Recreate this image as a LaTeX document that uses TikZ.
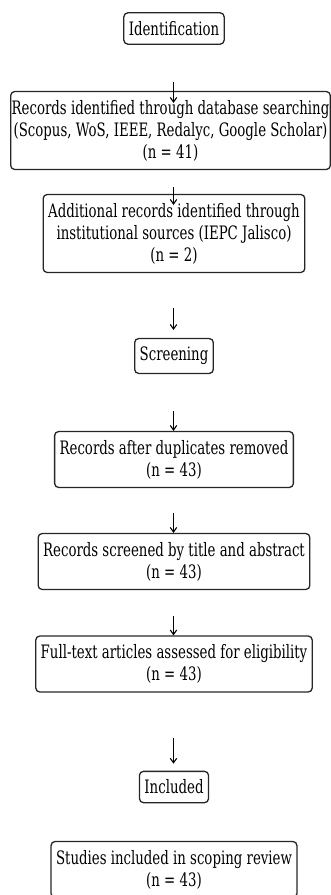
\documentclass[tikz,border=0pt]{standalone}
\usepackage{fontspec}
\setmainfont{DejaVu Serif}[FakeStretch=0.72]
\usepackage{tikz}
\usetikzlibrary{positioning,arrows.meta}

\begin{document}
\begin{tikzpicture}[x=1pt,y=-1pt,>={Straight Barb[length=4.5pt,width=6.5pt]},
		phase/.style={rectangle,rounded corners=4pt,draw=black!85,line width=1.3pt,inner xsep=5pt,inner ysep=8.5pt,align=center,font=\fontsize{18.5}{22}\selectfont},
		stage/.style={phase},
		flow/.style={->,line width=1.1pt}]
		\useasboundingbox (0,0) rectangle (330,895);
		\node[phase]  (ident)    at (174,28.5)  {Identification};
		\node[stage,inner xsep=1pt]  (dbrec)    at (170.5,130.5) {Records identified through database searching\\(Scopus, WoS, IEEE, Redalyc, Google Scholar)\\(n = 41)};
		\node[stage]  (addrec)   at (174,233.5) {Additional records identified through\\institutional sources (IEPC Jalisco)\\(n = 2)};
		\node[phase]  (screen)   at (174,356)   {Screening};
		\node[stage]  (dedup)    at (174,459.5) {Records after duplicates removed\\(n = 43)};
		\node[stage]  (screened) at (174,561.5) {Records screened by title and abstract\\(n = 43)};
		\node[stage]  (fulltext) at (174,664)   {Full-text articles assessed for eligibility\\(n = 43)};
		\node[phase]  (incl)     at (174,787)   {Included};
		\node[stage]  (studies)  at (174,869.5) {Studies included in scoping review\\(n = 43)};
		
		\coordinate (t1) at (173.5,82);
		\coordinate (t2) at (173.5,187);
		\coordinate (t3) at (173.5,308);
		\coordinate (t4) at (173.5,411);
		\coordinate (t5) at (173.5,513);
		\coordinate (t6) at (173.5,616);
		\coordinate (t7) at (173.5,738);
		
		\path[flow]
		(t1) edge[shorten >=-12pt] (t1 |- dbrec.north)
		(t2) edge[shorten >=-11pt] (t2 |- addrec.north)
		(t3) edge[shorten >=8pt] (t3 |- screen.north)
		(t4) edge (t4 |- dedup.north)
		(t5) edge (t5 |- screened.north)
		(t6) edge (t6 |- fulltext.north)
		(t7) edge[shorten >=7pt] (t7 |- incl.north);
\end{tikzpicture}
\end{document}
